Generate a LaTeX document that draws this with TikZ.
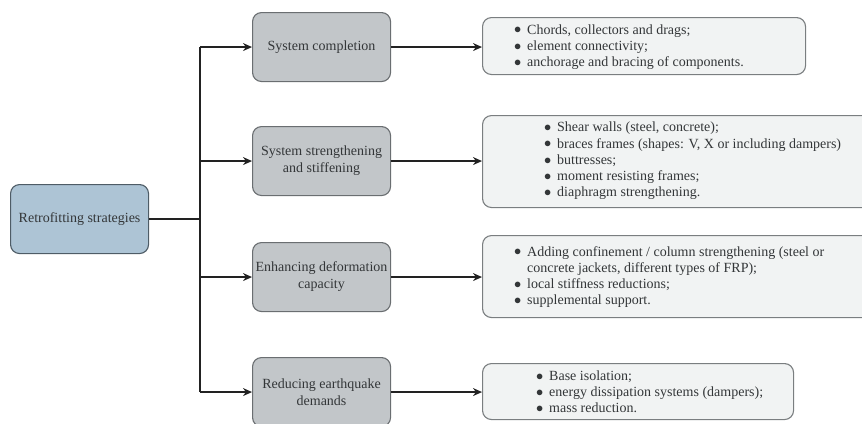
\documentclass[tikz,border=0pt]{standalone}
\usepackage{fontspec}
\setmainfont{Liberation Serif}
\usetikzlibrary{arrows.meta}
\definecolor{rootfill}{HTML}{ADC4D5}
\definecolor{rootdraw}{HTML}{4E5C66}
\definecolor{stratfill}{HTML}{C2C6C9}
\definecolor{stratdraw}{HTML}{6A6E71}
\definecolor{listfill}{HTML}{F1F3F3}
\definecolor{listdraw}{HTML}{7A7E80}
\definecolor{ink}{HTML}{333638}
\definecolor{wire}{HTML}{222222}
\tikzset{
  x=1pt, y=-1pt,
  box/.style={rounded corners=9pt, line width=1.1pt, inner sep=0pt, anchor=north west,
              font=\fontsize{14}{17}\selectfont, text=ink, align=center},
  rootbox/.style={box, fill=rootfill, draw=rootdraw},
  stratbox/.style={box, fill=stratfill, draw=stratdraw, minimum width=138pt, minimum height=69pt},
  listbox/.style={box, fill=listfill, draw=listdraw},
  listtext/.style={anchor=west, inner sep=0pt, text=ink, font=\fontsize{14}{16.2}\selectfont, align=left},
  wirestyle/.style={draw=wire, line width=1.2pt},
  arrowstyle/.style={wirestyle, -{Stealth[length=9pt,width=8pt]}},
}
\newcommand{\bitem}{\makebox[13pt][l]{\raisebox{0.2pt}{$\bullet$}}}
\begin{document}
\begin{tikzpicture}
\useasboundingbox (0,0) rectangle (862,423);

% root
\node[rootbox, minimum width=138pt, minimum height=69pt] (root) at (10,184) {Retrofitting strategies};

% strategy boxes
\node[stratbox] (s1) at (252,12)  {System completion};
\node[stratbox] (s2) at (252,126) {System strengthening\\and stiffening};
\node[stratbox] (s3) at (252,242) {Enhancing deformation\\capacity};
\node[stratbox] (s4) at (252,357) {Reducing earthquake\\demands};

% detail boxes
\node[listbox, minimum width=323pt, minimum height=57pt] (d1) at (482,17) {};
\node[listbox, minimum width=390pt, minimum height=92pt] (d2) at (482,115) {};
\node[listbox, minimum width=390pt, minimum height=82pt] (d3) at (482,235) {};
\node[listbox, minimum width=311pt, minimum height=56pt] (d4) at (482,363) {};

% detail texts
\node[listtext] (t1) at (514,47) {\bitem Chords, collectors and drags;\\
  \bitem element connectivity;\\
  \bitem anchorage and bracing of components.};
\node[listtext] (t2) at (544,161) {\bitem Shear walls (steel, concrete);\\
  \bitem braces frames (shapes: V, X or including dampers)\\
  \bitem buttresses;\\
  \bitem moment resisting frames;\\
  \bitem diaphragm strengthening.};
\node[listtext] (t3) at (514,277) {\bitem Adding confinement / column strengthening (steel or\\
  \hspace*{13pt}concrete jackets, different types of FRP);\\
  \bitem local stiffness reductions;\\
  \bitem supplemental support.};
\node[listtext] (t4) at (536,392) {\bitem Base isolation;\\
  \bitem energy dissipation systems (dampers);\\
  \bitem mass reduction.};

% trunk
\coordinate (jtop) at (200,0 |- s1.west);
\coordinate (jroot) at (200,0 |- root.east);
\coordinate (jbot) at (200,0 |- s4.west);
\draw[wirestyle] (root.east) -- (jroot);
\draw[wirestyle] (jtop) -- (jbot);

% branches
\draw[arrowstyle] (jtop) -- (s1.west);
\draw[arrowstyle] (jtop |- s2.west) -- (s2.west);
\draw[arrowstyle] (jtop |- s3.west) -- (s3.west);
\draw[arrowstyle] (jbot) -- (s4.west);

\draw[arrowstyle] (s1.east) -- (d1.west |- s1.east);
\draw[arrowstyle] (s2.east) -- (d2.west |- s2.east);
\draw[arrowstyle] (s3.east) -- (d3.west |- s3.east);
\draw[arrowstyle] (s4.east) -- (d4.west |- s4.east);
\end{tikzpicture}
\end{document}
